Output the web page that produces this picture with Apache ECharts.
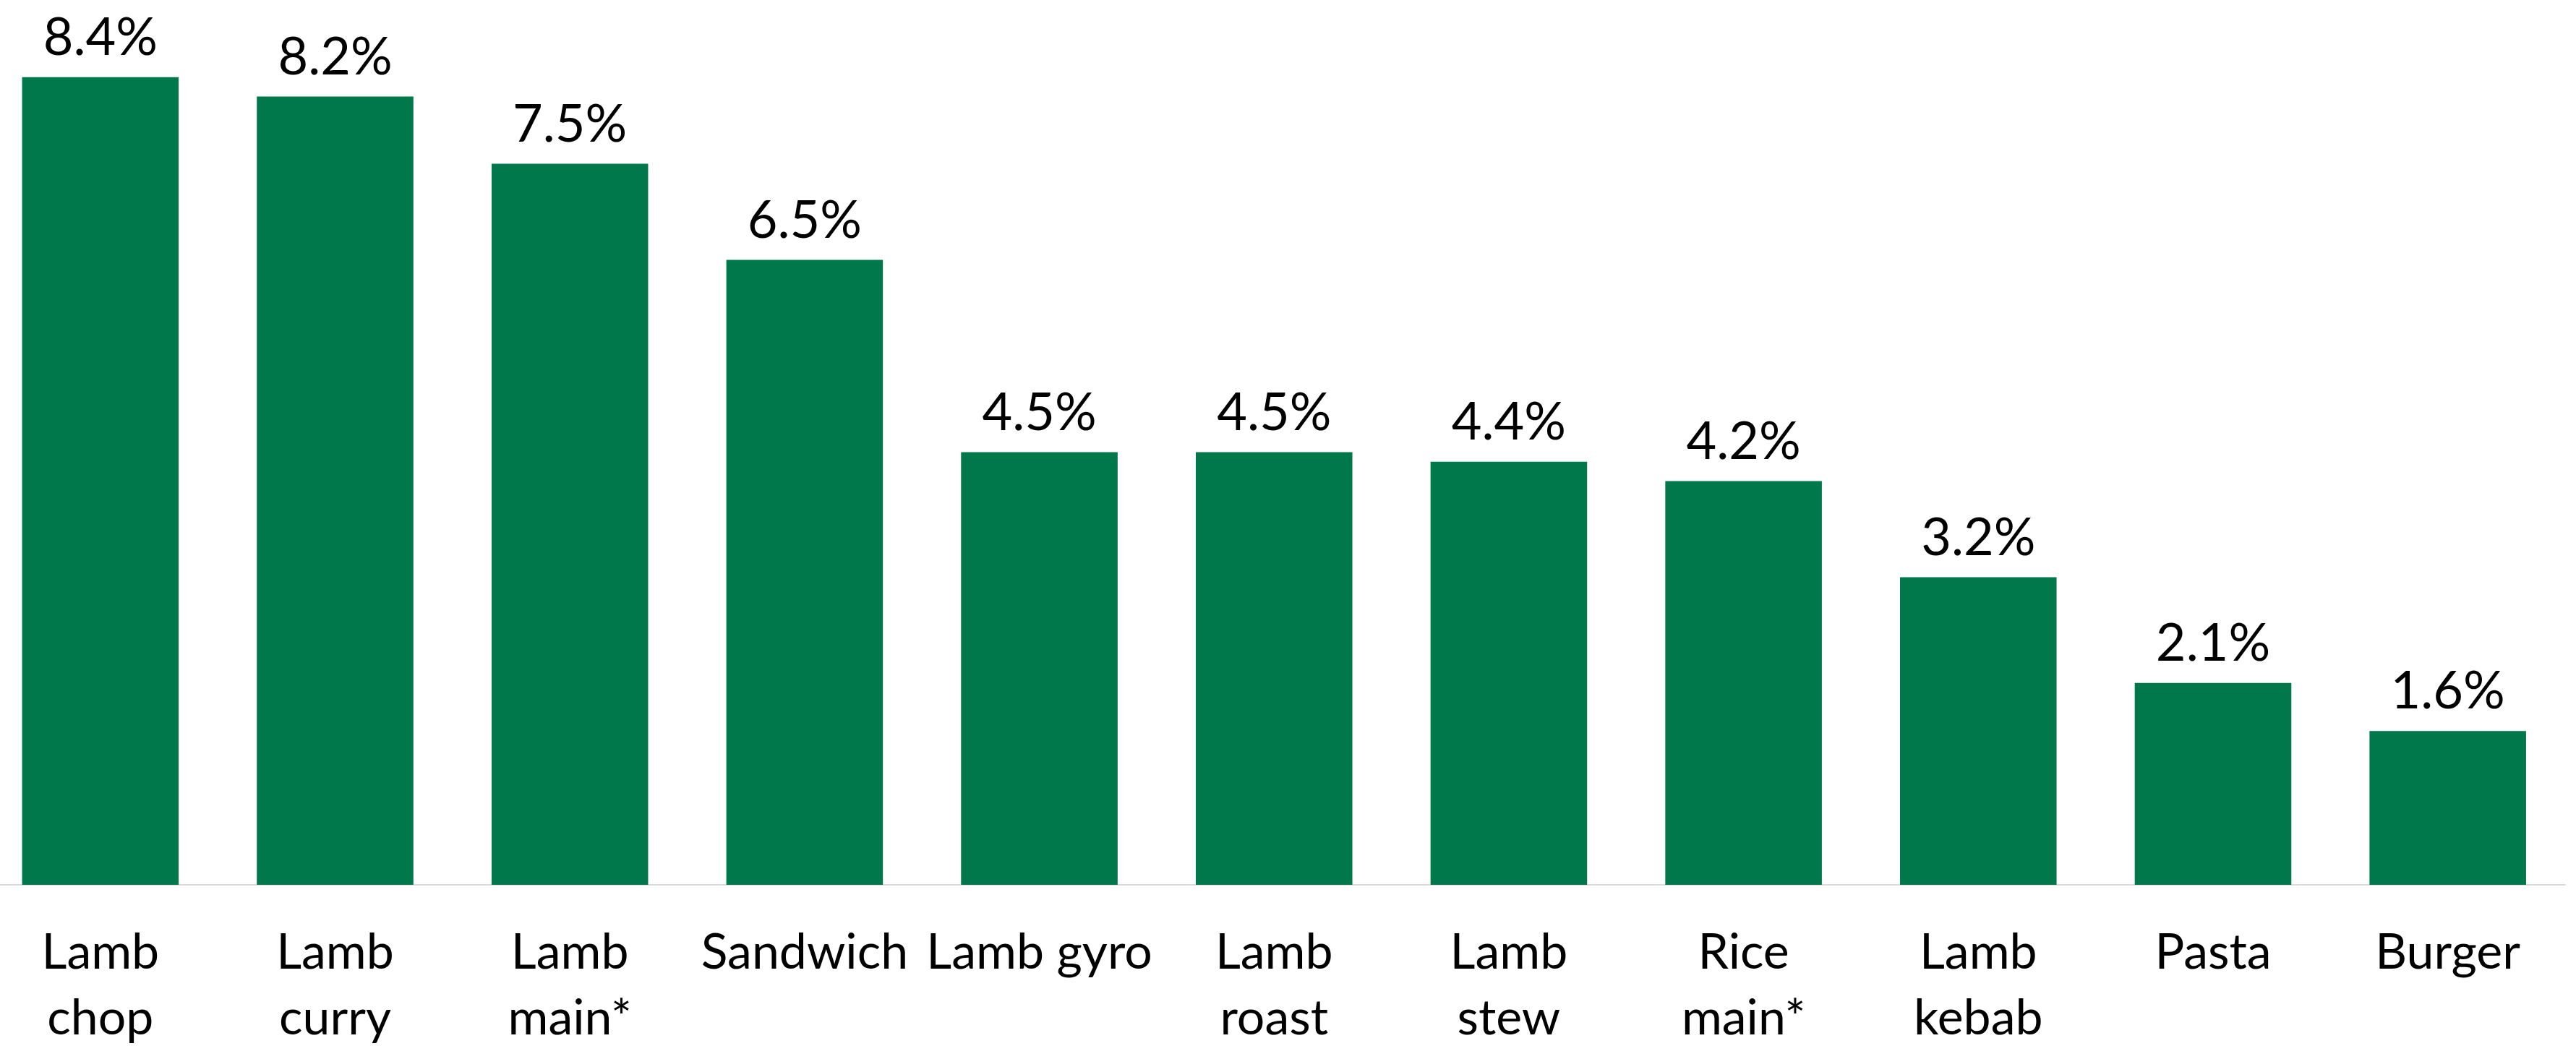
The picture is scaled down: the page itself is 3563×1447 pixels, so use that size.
<!DOCTYPE html>
<html>
<head>
<meta charset="utf-8">
<title>Lamb dishes share</title>
<script src="https://cdn.jsdelivr.net/npm/echarts@6/dist/echarts.min.js"></script>
<style>
  html, body { margin: 0; padding: 0; background: #ffffff; }
  #chart { width: 3563px; height: 1447px; }
</style>
</head>
<body>
<div id="chart"></div>
<script>
// Dish categories, as printed under each bar
const dishLabels = [
  'Lamb\nchop', 'Lamb\ncurry', 'Lamb\nmain*', 'Sandwich', 'Lamb gyro',
  'Lamb\nroast', 'Lamb\nstew', 'Rice\nmain*', 'Lamb\nkebab', 'Pasta', 'Burger'
];

// Share of each dish, in percent
const sharePct = [8.4, 8.2, 7.5, 6.5, 4.5, 4.5, 4.4, 4.2, 3.2, 2.1, 1.6];

// Value axis range (hidden)
const valueMin = 0;
const valueMax = 9;

const FONT = 'Lato, "Noto Sans", sans-serif';

const chart = echarts.init(document.getElementById('chart'), null, { renderer: 'canvas' });

chart.setOption({
  animation: false,
  backgroundColor: '#ffffff',
  grid: {
    left: -23.5,
    right: 15,
    top: 27,
    bottom: 223,
    containLabel: false,
    outerBoundsMode: 'none'
  },
  xAxis: {
    type: 'category',
    data: dishLabels,
    axisLine: { show: true, lineStyle: { color: '#d9d9d9', width: 2 } },
    axisTick: { show: false },
    axisLabel: {
      interval: 0,
      margin: 49,
      color: '#000000',
      fontFamily: FONT,
      fontSize: 68,
      lineHeight: 91,
      align: 'center'
    },
    splitLine: { show: false }
  },
  yAxis: {
    type: 'value',
    min: valueMin,
    max: valueMax,
    show: false,
    splitLine: { show: false }
  },
  series: [{
    type: 'bar',
    data: sharePct,
    barCategoryGap: '33.3%',
    itemStyle: { color: '#00784B' },
    label: {
      show: true,
      position: 'top',
      distance: 18,
      color: '#000000',
      fontFamily: FONT,
      fontSize: 72,
      formatter: p => p.value.toFixed(1) + '%'
    }
  }]
});
</script>
</body>
</html>
